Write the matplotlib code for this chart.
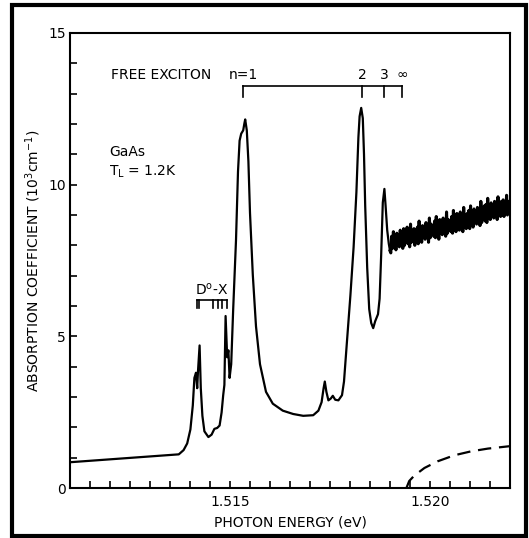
import numpy as np
import matplotlib
matplotlib.use("Agg")
import matplotlib.pyplot as plt
from matplotlib.patches import Rectangle

energy = [1.51100, 1.51372, 1.51384, 1.51393, 1.51401, 1.51407, 1.51411, 1.51415,
          1.51418, 1.51420, 1.51424, 1.51427, 1.51431, 1.51436, 1.51446, 1.51454,
          1.51461, 1.51468, 1.51474, 1.51479, 1.51483, 1.51486, 1.51489, 1.51493,
          1.51496, 1.51499, 1.51503, 1.51508, 1.51515, 1.51520, 1.51524, 1.51528,
          1.51533, 1.51536, 1.51538, 1.51542, 1.51546, 1.51550, 1.51557, 1.51565,
          1.51575, 1.51590, 1.51607, 1.51632, 1.51658, 1.51683, 1.51708, 1.51721,
          1.51729, 1.51734, 1.51737, 1.51741, 1.51746, 1.51752, 1.51757, 1.51763,
          1.51771, 1.51780, 1.51785, 1.51792, 1.51801, 1.51809, 1.51816, 1.51821,
          1.51824, 1.51828, 1.51832, 1.51835, 1.51838, 1.51843, 1.51848, 1.51853,
          1.51858, 1.51863, 1.51870, 1.51874, 1.51878, 1.51882, 1.51886, 1.51889,
          1.51893, 1.51897, 1.51900]
alpha = [0.85, 1.11, 1.25, 1.47, 1.93, 2.72, 3.63, 3.80,
         3.29, 3.85, 4.70, 3.29, 2.38, 1.87, 1.68, 1.76,
         1.95, 1.98, 2.06, 2.49, 3.06, 3.40, 5.67, 4.31,
         4.54, 3.63, 4.08, 5.90, 8.16, 10.43, 11.45, 11.68,
         11.79, 12.02, 12.15, 11.79, 10.77, 9.07, 7.03, 5.33,
         4.08, 3.17, 2.78, 2.55, 2.44, 2.38, 2.40, 2.55,
         2.83, 3.29, 3.51, 3.17, 2.89, 2.95, 3.04, 2.91,
         2.89, 3.06, 3.51, 4.76, 6.35, 7.94, 9.75, 11.56,
         12.25, 12.53, 12.19, 11.00, 9.30, 7.26, 5.90, 5.44,
         5.27, 5.50, 5.73, 6.24, 7.71, 9.41, 9.86, 9.30,
         8.50, 8.05, 7.82]

# noisy continuum above the gap, evenly sampled record
noise_start, noise_end = 1.51902, 1.52200
noise_alpha = [7.75, 8.30, 7.90, 8.45, 8.05, 8.20, 7.85, 8.40, 8.10, 8.35,
               7.95, 8.50, 8.15, 8.30, 7.90, 8.55, 8.00, 8.40, 8.20, 8.60,
               8.05, 8.45, 7.95, 8.70, 8.10, 8.40, 8.25, 8.55, 8.00, 8.50,
               8.15, 8.60, 8.05, 8.80, 8.20, 8.50, 8.10, 8.65, 8.35, 8.55,
               8.20, 8.75, 8.30, 8.60, 8.10, 8.90, 8.25, 8.70, 8.40, 8.65,
               8.30, 8.80, 8.25, 8.95, 8.40, 8.70, 8.20, 8.85, 8.45, 8.75,
               8.35, 8.90, 8.45, 8.75, 8.30, 9.10, 8.40, 8.85, 8.55, 8.80,
               8.45, 8.95, 8.40, 9.15, 8.55, 8.85, 8.45, 9.05, 8.60, 8.90,
               8.50, 9.10, 8.60, 8.95, 8.45, 9.25, 8.65, 9.00, 8.55, 9.05,
               8.65, 9.15, 8.55, 9.30, 8.70, 9.05, 8.60, 9.20, 8.75, 9.10,
               8.70, 9.25, 8.80, 9.10, 8.65, 9.45, 8.75, 9.20, 8.85, 9.30,
               8.80, 9.35, 8.75, 9.55, 8.90, 9.20, 8.85, 9.40, 8.95, 9.30,
               8.90, 9.45, 8.95, 9.30, 8.85, 9.60, 9.00, 9.35, 8.95, 9.45,
               9.00, 9.50, 8.95, 9.40, 9.05, 9.65, 9.00, 9.45, 9.10, 9.40]

# dashed band-to-band contribution
band_energy = [1.51941, 1.51948, 1.51960, 1.51986, 1.52019, 1.52061, 1.52103, 1.52145, 1.52200]
band_alpha = [0.0, 0.23, 0.40, 0.66, 0.88, 1.08, 1.21, 1.30, 1.38]

# free exciton lines n = 1, 2, 3, inf
fx_energy = [1.51533, 1.51830, 1.51886, 1.51931]
fx_labels = ['n=1', '2', '3', '\u221e']
# donor bound exciton lines
dx_energy = [1.514175, 1.514225, 1.514575, 1.51470, 1.51480, 1.514925]

fig = plt.figure(figsize=(5.29, 5.38), dpi=100)
ax = fig.add_axes([0.1323, 0.0929, 0.8318, 0.8458])

ax.plot(energy, alpha, color='black', lw=1.6)
noise_x = np.linspace(noise_start, noise_end, len(noise_alpha))
ax.plot(np.r_[energy[-1], noise_x], np.r_[alpha[-1], noise_alpha], color='black', lw=2.2)
ax.plot(band_energy, band_alpha, color='black', lw=1.6, dashes=(6, 3.5))

ax.set_xlim(1.511, 1.522)
ax.set_ylim(0, 15)
ax.set_xticks([1.515, 1.520])
ax.set_xticklabels(['1.515', '1.520'])
ax.set_xticks(np.arange(1.5115, 1.5216, 0.0005), minor=True)
ax.set_yticks([0, 5, 10, 15])
ax.set_yticks(range(16), minor=True)
ax.tick_params(which='both', direction='in', length=5, width=1.2, labelsize=10,
               top=False, right=False)
ax.tick_params(axis='x', pad=5)
ax.tick_params(axis='y', pad=3)
for s in ax.spines.values():
    s.set_linewidth(1.5)

ax.set_xlabel('PHOTON ENERGY (eV)', fontsize=10, labelpad=5)
ax.set_ylabel(r'ABSORPTION COEFFICIENT ($\mathregular{10^3 cm^{-1}}$)', fontsize=10, labelpad=4)

# free exciton bracket
kw = dict(color='black', lw=1.2)
ax.plot([fx_energy[0], fx_energy[-1]], [13.24, 13.24], **kw)
for e in fx_energy:
    ax.plot([e, e], [13.24, 12.9], **kw)
ax.text(1.51203, 13.62, 'FREE EXCITON', fontsize=10, ha='left', va='center')
for e, lab in zip(fx_energy, fx_labels):
    ax.text(e, 13.62, lab, fontsize=10, ha='center', va='center')

# D0-X bracket
ax.plot([dx_energy[0], dx_energy[-1]], [6.2, 6.2], **kw)
for e in dx_energy:
    ax.plot([e, e], [6.2, 5.95], **kw)
ax.text(1.51455, 6.55, r'D$^{\mathregular{o}}$-X', fontsize=10, ha='center', va='center')

ax.text(1.51197, 11.08, 'GaAs', fontsize=10, ha='left', va='center')
ax.text(1.51197, 10.43, r'$\mathregular{T_L}$ = 1.2K', fontsize=10, ha='left', va='center')

# scanned figure frame
fig.patches.append(Rectangle((12 / 529, 2 / 538), 514 / 529, 531 / 538,
                             transform=fig.transFigure, fill=False,
                             edgecolor='black', lw=3))

fig.savefig('out.png', dpi=100)
